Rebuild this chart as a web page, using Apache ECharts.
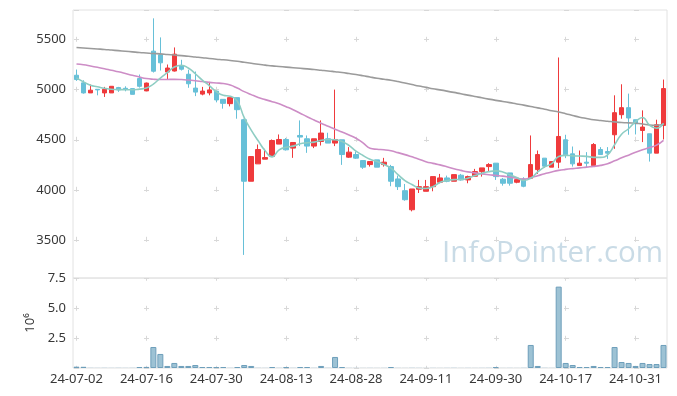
<!DOCTYPE html>
<html><head><meta charset="utf-8">
<script src="https://cdn.jsdelivr.net/npm/echarts@6/dist/echarts.min.js"></script>
<style>html,body{margin:0;padding:0;background:#fff}#c{width:677px;height:396px}</style>
</head><body><div id="c"></div>
<script>
const dates = [
'24-07-02','24-07-03','24-07-04','24-07-05','24-07-08','24-07-09','24-07-10','24-07-11','24-07-12','24-07-15',
'24-07-16','24-07-17','24-07-18','24-07-19','24-07-22','24-07-23','24-07-24','24-07-25','24-07-26','24-07-29',
'24-07-30','24-07-31','24-08-01','24-08-02','24-08-05','24-08-06','24-08-07','24-08-08','24-08-09','24-08-12',
'24-08-13','24-08-14','24-08-16','24-08-19','24-08-20','24-08-21','24-08-22','24-08-23','24-08-26','24-08-27',
'24-08-28','24-08-29','24-08-30','24-09-02','24-09-03','24-09-04','24-09-05','24-09-06','24-09-09','24-09-10',
'24-09-11','24-09-12','24-09-13','24-09-19','24-09-20','24-09-23','24-09-24','24-09-25','24-09-26','24-09-27',
'24-09-30','24-10-02','24-10-04','24-10-07','24-10-08','24-10-10','24-10-11','24-10-14','24-10-15','24-10-16',
'24-10-17','24-10-18','24-10-21','24-10-22','24-10-23','24-10-24','24-10-25','24-10-28','24-10-29','24-10-30',
'24-10-31','24-11-01','24-11-04','24-11-05','24-11-06'];

const opens = [5143,5067,4967,5003,4967,4967,5020,5013,5010,5110,
 4987,5383,5347,5175,5185,5238,5153,5015,4955,4967,
 4985,4903,4860,4920,4700,4087,4260,4307,4333,4457,
 4503,4417,4543,4510,4437,4483,4510,4467,4500,4327,
 4353,4293,4253,4300,4253,4233,4110,3993,3803,4007,
 3987,4033,4077,4120,4087,4147,4100,4137,4183,4233,
 4267,4107,4170,4077,4110,4117,4203,4317,4227,4277,
 4500,4360,4243,4277,4243,4403,4383,4550,4750,4820,
 4700,4593,4560,4367,4643];
const closes = [5100,4967,4994,4997,5003,5033,4997,5003,4953,5033,
 5065,5183,5267,5215,5353,5203,5058,4975,4985,4997,
 4897,4863,4920,4800,4087,4333,4403,4323,4493,4503,
 4400,4473,4527,4437,4510,4567,4467,4503,4353,4377,
 4317,4227,4283,4227,4277,4087,4033,3903,4010,4033,
 4033,4133,4120,4087,4153,4100,4133,4183,4220,4253,
 4133,4067,4067,4103,4037,4253,4353,4237,4283,4533,
 4350,4260,4267,4267,4453,4353,4367,4770,4820,4717,
 4660,4627,4367,4650,5010];
const lows = [5087,4960,4967,4943,4927,4967,4977,4983,4953,5020,
 4987,5170,5190,5103,5180,5190,5018,4935,4943,4943,
 4873,4810,4833,4710,3353,4087,4260,4307,4333,4457,
 4393,4320,4437,4370,4417,4443,4467,4437,4250,4320,
 4310,4210,4233,4227,4233,4037,4000,3893,3787,3970,
 3987,3987,4067,4077,4087,4093,4067,4137,4133,4187,
 4100,4043,4043,4067,4027,4110,4160,4220,4227,4217,
 4317,4233,4243,4220,4243,4353,4310,4410,4710,4550,
 4553,4477,4283,4367,4503];
const highs = [5200,5093,5050,5003,5027,5033,5027,5033,5010,5150,
 5070,5710,5520,5250,5420,5297,5198,5180,5027,5077,
 4987,4903,4920,4920,4710,4333,4453,4410,4503,4553,
 4517,4473,4693,4543,4510,4693,4570,5000,4500,4427,
 4383,4293,4283,4300,4320,4250,4143,4060,4010,4100,
 4100,4133,4160,4143,4153,4160,4143,4210,4220,4267,
 4267,4120,4170,4103,4127,4543,4393,4317,4283,5320,
 4550,4433,4393,4377,4467,4427,4427,4943,5053,4960,
 4700,4793,4560,4700,5100];
const volumes = [110000,100000,20000,15000,20000,15000,20000,15000,20000,80000,
 90000,1750000,1170000,170000,420000,170000,170000,250000,80000,80000,
 80000,80000,20000,80000,250000,170000,20000,15000,80000,20000,
 80000,20000,80000,80000,20000,170000,20000,920000,80000,15000,
 15000,10000,15000,10000,15000,80000,15000,10000,20000,15000,
 10000,15000,10000,15000,20000,10000,15000,10000,15000,20000,
 80000,10000,15000,10000,20000,1920000,170000,20000,15000,6780000,
 420000,250000,80000,80000,170000,80000,80000,1750000,500000,420000,
 170000,420000,330000,330000,1920000];
const ma5 = [5117,5077,5043,5028,5013,5003,5000,4999,4998,5005,
 5015,5055,5115,5170,5225,5243,5215,5158,5095,5040,
 4980,4943,4933,4887,4720,4597,4490,4390,4330,4400,
 4425,4437,4460,4470,4477,4495,4503,4500,4483,4443,
 4387,4343,4305,4283,4253,4218,4153,4093,4055,4020,
 4015,4033,4075,4093,4103,4105,4117,4143,4167,4183,
 4190,4180,4152,4125,4095,4115,4180,4230,4262,4333,
 4345,4340,4338,4335,4325,4325,4350,4450,4556,4610,
 4680,4722,4645,4615,4665];
const ma20 = [5255,5247,5235,5222,5208,5192,5177,5160,5142,5125,
 5110,5103,5100,5101,5102,5100,5095,5088,5080,5072,
 5066,5060,5045,5015,4980,4950,4922,4900,4880,4858,
 4830,4800,4765,4730,4697,4665,4635,4605,4577,4548,
 4515,4470,4415,4405,4400,4390,4372,4352,4330,4307,
 4282,4265,4250,4232,4212,4195,4180,4170,4160,4152,
 4145,4138,4128,4118,4108,4122,4142,4162,4180,4195,
 4205,4213,4220,4228,4235,4245,4262,4290,4320,4347,
 4375,4400,4422,4447,4495];
const ma120 = [5420,5415,5410,5405,5400,5394,5388,5382,5376,5370,
 5365,5360,5356,5350,5344,5338,5332,5325,5318,5310,
 5303,5297,5290,5282,5272,5262,5252,5244,5236,5230,
 5224,5218,5212,5206,5200,5193,5186,5178,5170,5160,
 5150,5138,5125,5113,5103,5093,5080,5065,5050,5035,
 5022,5008,4997,4985,4972,4958,4945,4932,4918,4905,
 4893,4882,4870,4857,4845,4832,4818,4805,4790,4777,
 4760,4742,4725,4712,4700,4692,4685,4678,4672,4668,
 4665,4658,4648,4645,4655];

const UP = '#ef3a3c', DOWN = '#67c0d8';
const FONT = 'Noto Sans';
const LABEL = '#383838';
const GRIDC = '#e2e2e2', CROSS = '#d8d8d8';

const candles = dates.map((d, i) => [opens[i], closes[i], lows[i], highs[i]]);
const volData = volumes.map(v => v < 50000 ? {value: v, itemStyle: {borderWidth: 0}} : v);

const chart = echarts.init(document.getElementById('c'), null, {renderer: 'canvas'});
chart.setOption({
  animation: false,
  textStyle: {fontFamily: FONT},
  grid: [
    {left: 73, right: 10, top: 10, height: 268, show: true, borderColor: GRIDC, borderWidth: 1},
    {left: 73, right: 10, top: 278, height: 90, show: true, borderColor: GRIDC, borderWidth: 1}
  ],
  xAxis: [
    {type: 'category', data: dates, gridIndex: 0, boundaryGap: true,
     axisLine: {show: false}, axisTick: {show: false}, axisLabel: {show: false},
     splitLine: {show: true, interval: 9, alignWithLabel: true,
       lineStyle: {color: CROSS, width: 1, type: [5, 45], dashOffset: 23.2}}},
    {type: 'category', data: dates, gridIndex: 1, boundaryGap: true,
     axisLine: {show: false}, axisTick: {show: false},
     axisLabel: {interval: 9, color: LABEL, fontSize: 13, margin: 5, fontFamily: FONT},
     splitLine: {show: true, interval: 9, alignWithLabel: true,
       lineStyle: {color: CROSS, width: 1, type: [5, 25], dashOffset: 2.2}}}
  ],
  yAxis: [
    {type: 'value', gridIndex: 0, min: 3123, max: 5793, scale: true,
     axisLine: {show: false}, axisTick: {show: false},
     axisLabel: {color: LABEL, fontSize: 13, margin: 7, fontFamily: FONT,
       formatter: v => (Math.abs(v % 500) < 1e-6 ? String(v) : '')},
     splitLine: {show: true, lineStyle: {color: CROSS, width: 1, type: [5, 65], dashOffset: 69}}},
    {type: 'value', gridIndex: 1, min: 0, max: 7500000, interval: 2500000,
     name: '10\u2076', nameLocation: 'middle', nameRotate: 90, nameGap: 36,
     nameTextStyle: {color: LABEL, fontSize: 13, fontFamily: FONT},
     axisLine: {show: false}, axisTick: {show: false},
     axisLabel: {color: LABEL, fontSize: 13, margin: 7, fontFamily: FONT, showMinLabel: false,
       formatter: v => (v === 0 ? '' : (v / 1e6).toFixed(1))},
     splitLine: {show: true, lineStyle: {color: CROSS, width: 1, type: [5, 65], dashOffset: 69}}}
  ],
  graphic: [{
    type: 'text', left: 442, top: 239, z: 0, silent: true,
    style: {text: 'InfoPointer.com', fontSize: 29.5, fontFamily: 'Open Sans', fill: '#c9dbe6'}
  }],
  series: [
    {type: 'candlestick', name: 'price', xAxisIndex: 0, yAxisIndex: 0, data: candles, barWidth: 5,
     itemStyle: {color: UP, color0: DOWN, borderColor: UP, borderColor0: DOWN, borderWidth: 1}},
    {type: 'line', name: 'MA120', xAxisIndex: 0, yAxisIndex: 0, data: ma120, showSymbol: false, smooth: true,
     lineStyle: {color: '#9b9b9b', width: 1.6}},
    {type: 'line', name: 'MA20', xAxisIndex: 0, yAxisIndex: 0, data: ma20, showSymbol: false, smooth: true,
     lineStyle: {color: '#cd8dc6', width: 1.6}},
    {type: 'line', name: 'MA5', xAxisIndex: 0, yAxisIndex: 0, data: ma5, showSymbol: false, smooth: true,
     lineStyle: {color: '#8ecdc3', width: 1.6}},
    {type: 'bar', name: 'volume', xAxisIndex: 1, yAxisIndex: 1, data: volData, barWidth: 6,
     itemStyle: {color: '#9dc2d4', borderColor: '#6e9fbb', borderWidth: 1}}
  ]
});
</script>
</body></html>
